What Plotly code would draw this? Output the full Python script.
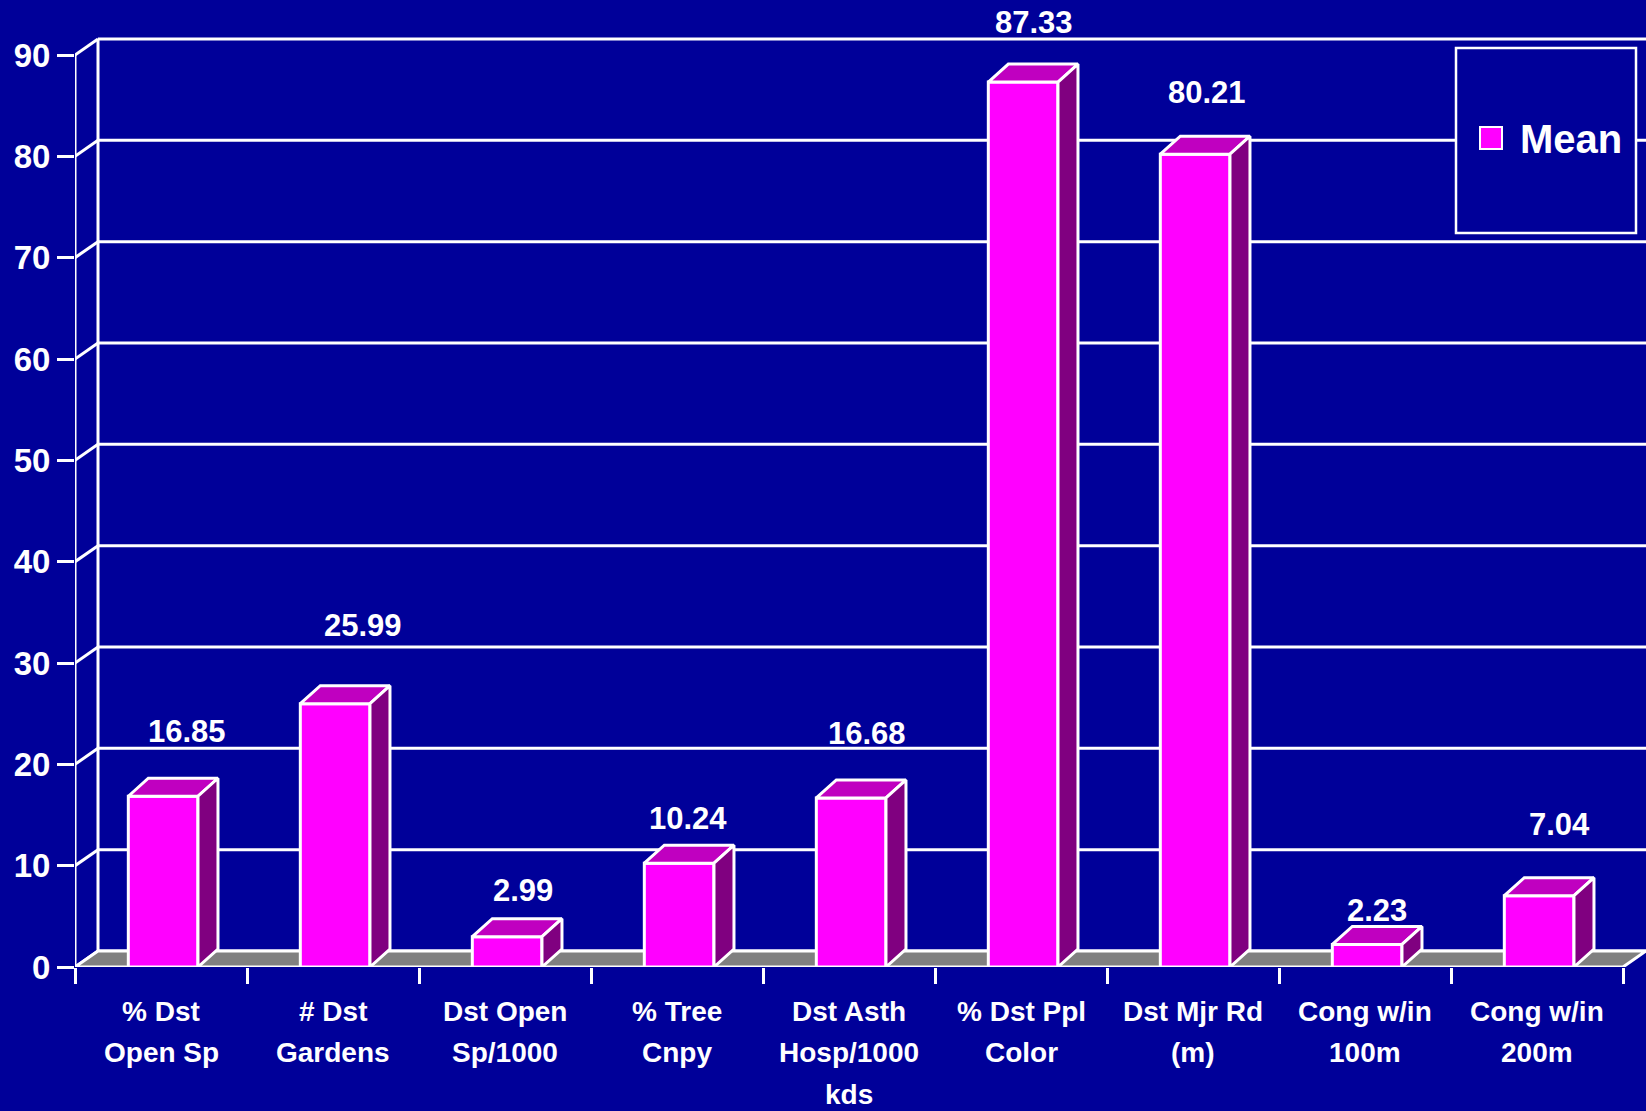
import plotly.graph_objects as go

# ---- data -------------------------------------------------------------
categories = [
    "% Dst<br>Open Sp",
    "# Dst<br>Gardens",
    "Dst Open<br>Sp/1000",
    "% Tree<br>Cnpy",
    "Dst Asth<br>Hosp/1000<br>kds",
    "% Dst Ppl<br>Color",
    "Dst Mjr Rd<br>(m)",
    "Cong w/in<br>100m",
    "Cong w/in<br>200m",
]
mean_values = [16.85, 25.99, 2.99, 10.24, 16.68, 87.33, 80.21, 2.23, 7.04]
series_name = "Mean"
y_ticks = [0, 10, 20, 30, 40, 50, 60, 70, 80, 90]

# ---- styling ----------------------------------------------------------
BG = "#000099"
FRONT = "#FF00FF"
TOP = "#C000C0"
SIDE = "#800080"
FLOOR = "#808080"
WHITE = "#FFFFFF"
FONT = "Liberation Sans, Arial, sans-serif"

W, H = 1646, 1111
M_L, M_B = 75, 144
PLOT_W, PLOT_H = W - M_L, H - M_B
PX_PER_CAT = 172.0
PX_PER_UNIT = 912.0 / 90.0

n = len(categories)
wall_dx = 23 / PX_PER_CAT           # depth of the back wall (x units)
wall_dy = 16 / PX_PER_UNIT          # depth of the back wall (y units)
bar_dx = 20 / PX_PER_CAT            # depth of each bar
bar_dy = 18 / PX_PER_UNIT
bar_w = 0.405
bar_off = -0.19

x_min = -0.5
x_max = n - 0.5 + wall_dx
y_max = PLOT_H / PX_PER_UNIT

# value-label nudges (pixels), so labels sit above the 3-D tops
label_dx = [26, 30, 18, 11, 18, 13, 14, 12, 22]
label_dy = [65, 78, 46, 45, 64, 60, 62, 34, 71]


def paper_x(px):
    return (px - M_L) / PLOT_W


def paper_y(py):
    return (PLOT_H - py) / PLOT_H


fig = go.Figure()

# front faces of the bars
fig.add_trace(go.Bar(
    x=list(range(n)), y=mean_values, name=series_name,
    width=bar_w, offset=bar_off,
    marker=dict(color=FRONT, line=dict(color=WHITE, width=3)),
    showlegend=False, hoverinfo="skip",
))

# top and side faces for the 3-D look
for i, v in enumerate(mean_values):
    x0 = i + bar_off
    x1 = x0 + bar_w
    fig.add_trace(go.Scatter(
        x=[x0, x1, x1 + bar_dx, x0 + bar_dx, x0],
        y=[v, v, v + bar_dy, v + bar_dy, v],
        mode="lines", fill="toself", fillcolor=TOP,
        line=dict(color=WHITE, width=3),
        showlegend=False, hoverinfo="skip",
    ))
    fig.add_trace(go.Scatter(
        x=[x1, x1 + bar_dx, x1 + bar_dx, x1, x1],
        y=[0, bar_dy, v + bar_dy, v, 0],
        mode="lines", fill="toself", fillcolor=SIDE,
        line=dict(color=WHITE, width=3),
        showlegend=False, hoverinfo="skip",
    ))

shapes = []
line_style = dict(color=WHITE, width=3)

# back wall gridlines and their diagonal ties to the front axis
for t in y_ticks:
    shapes.append(dict(type="line", xref="x", yref="y", layer="below",
                       x0=x_min + wall_dx, x1=x_max, y0=t + wall_dy, y1=t + wall_dy,
                       line=line_style))
    shapes.append(dict(type="line", xref="x", yref="y", layer="below",
                       x0=x_min, x1=x_min + wall_dx, y0=t, y1=t + wall_dy,
                       line=line_style))

# back wall left edge
shapes.append(dict(type="line", xref="x", yref="y", layer="below",
                   x0=x_min + wall_dx, x1=x_min + wall_dx,
                   y0=wall_dy, y1=y_ticks[-1] + wall_dy, line=line_style))

# floor
x_end = n - 0.5
shapes.append(dict(type="path", xref="x", yref="y", layer="below",
                   path=(f"M {x_min},0 L {x_end},0 L {x_end + wall_dx},{wall_dy} "
                         f"L {x_min + wall_dx},{wall_dy} Z"),
                   fillcolor=FLOOR, line=dict(color=WHITE, width=3)))

# front value axis line
shapes.append(dict(type="line", xref="x", yref="y", layer="above",
                   x0=x_min, x1=x_min, y0=0, y1=y_ticks[-1], line=line_style))

# legend box
shapes.append(dict(type="rect", xref="paper", yref="paper", layer="above",
                   x0=paper_x(1456), x1=paper_x(1636), y0=paper_y(233), y1=paper_y(48),
                   fillcolor=BG, line=dict(color=WHITE, width=2.5)))
shapes.append(dict(type="rect", xref="paper", yref="paper", layer="above",
                   x0=paper_x(1480), x1=paper_x(1502), y0=paper_y(149), y1=paper_y(127),
                   fillcolor=FRONT, line=dict(color=WHITE, width=2)))

annotations = []

# legend text
annotations.append(dict(xref="paper", yref="paper", x=paper_x(1518), y=paper_y(139),
                        text=series_name, showarrow=False, xanchor="left", yanchor="middle",
                        font=dict(family=FONT, size=40, color=WHITE, weight="bold")))

# value labels
for i, v in enumerate(mean_values):
    annotations.append(dict(x=i, y=v, xref="x", yref="y", text=f"{v:.2f}",
                            showarrow=False, xanchor="center", yanchor="middle",
                            xshift=label_dx[i], yshift=label_dy[i],
                            font=dict(family=FONT, size=31, color=WHITE, weight="bold")))

# category labels, one annotation per line for the wide line spacing
for i, cat in enumerate(categories):
    for k, part in enumerate(cat.split("<br>")):
        annotations.append(dict(x=i, y=0, xref="x", yref="y", text=part,
                                showarrow=False, xanchor="center", yanchor="middle",
                                yshift=-44 - 41.5 * k, borderpad=0,
                                font=dict(family=FONT, size=28, color=WHITE, weight="bold")))

fig.update_layout(
    width=W, height=H,
    margin=dict(l=M_L, r=0, t=0, b=M_B, pad=0),
    paper_bgcolor=BG, plot_bgcolor=BG,
    showlegend=False,
    shapes=shapes, annotations=annotations,
    xaxis=dict(range=[x_min, x_max], showgrid=False, zeroline=False, showline=False,
               tickmode="array", tickvals=[i - 0.5 for i in range(n + 1)],
               ticks="outside", ticklen=16, tickwidth=3, tickcolor=WHITE,
               showticklabels=False, fixedrange=True),
    yaxis=dict(range=[0, y_max], showgrid=False, zeroline=False, showline=False,
               tickmode="array", tickvals=y_ticks,
               ticks="outside", ticklen=17, tickwidth=3, tickcolor=WHITE,
               tickfont=dict(family=FONT, size=33, color=WHITE, weight="bold"),
               fixedrange=True),
)

fig.write_html("out.html")
